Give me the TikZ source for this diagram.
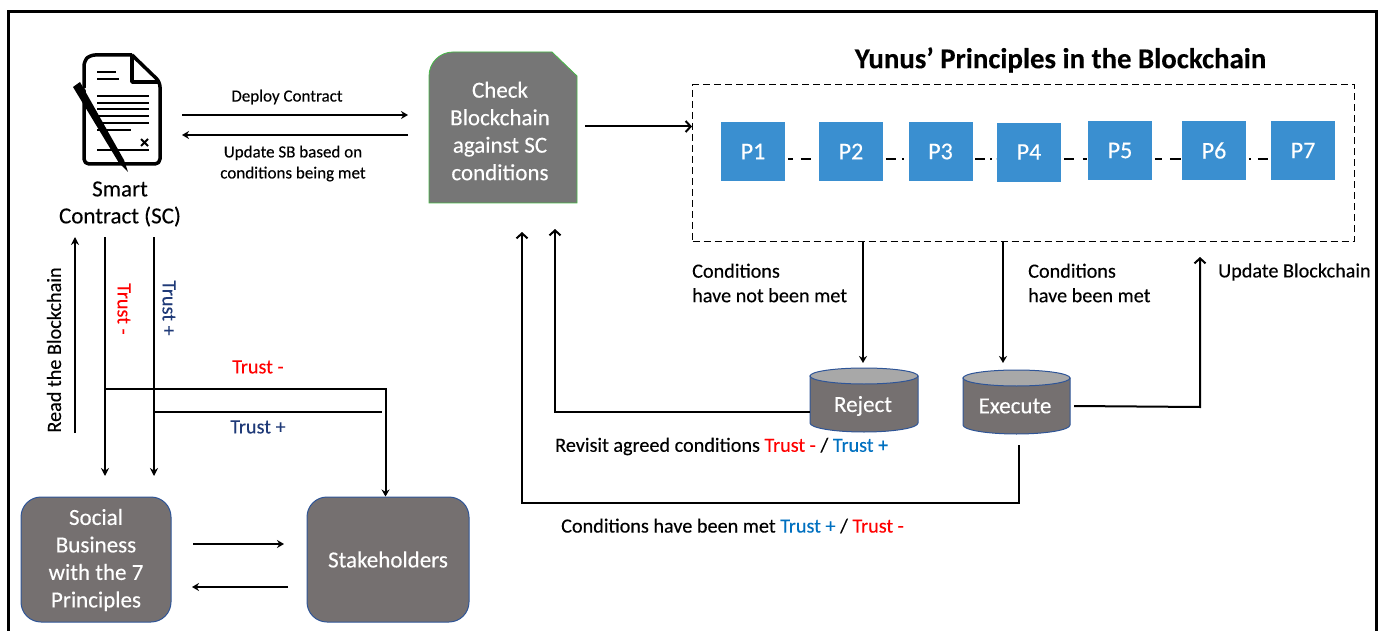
\documentclass[tikz,border=0pt]{standalone}
\usepackage{fontspec}
\setmainfont[FakeBold=0.25]{Carlito}
\usetikzlibrary{arrows.meta,calc}
\definecolor{boxgrey}{HTML}{757070}
\definecolor{chkgrey}{HTML}{767676}
\definecolor{pblue}{HTML}{3A8FD0}
\definecolor{edgeblue}{HTML}{2F5597}
\definecolor{topgrey}{HTML}{A8A8A8}
\definecolor{trustred}{HTML}{FF0000}
\definecolor{trustnavy}{HTML}{1F3A78}
\definecolor{trustblue}{HTML}{0070C0}
\tikzset{
  x=1pt,y=-1pt,
  conn/.style={draw=black,line width=2pt,-{Stealth[length=7pt,width=8pt]}},
  barb/.style={draw=black,line width=2pt,-{Straight Barb[length=5pt,width=11pt]}},
  thin conn/.style={draw=black,line width=1.3pt,-{Stealth[length=8pt,width=8pt]}},
  plain/.style={draw=black,line width=2pt},
  lbl/.style={font=\fontsize{20.2}{24.5}\selectfont,align=left,inner sep=0pt,text=black},
  clbl/.style={lbl,align=center,font=\fontsize{17}{21}\selectfont},
  pbox/.style={fill=pblue,draw=white,line width=.5pt,minimum width=65pt,minimum height=60pt,inner sep=0pt,text=white,font=\fontsize{24}{28}\selectfont},
  gbox/.style={fill=boxgrey,draw=edgeblue,line width=1pt,rounded corners=20pt,inner sep=0pt,text=white,align=center,font=\fontsize{23}{27.5}\selectfont},
  wtxt/.style={text=white,align=center,inner sep=0pt,font=\fontsize{23}{27.5}\selectfont},
}
\begin{document}
\begin{tikzpicture}
\useasboundingbox (0,0) rectangle (1381,631);
% frame
\draw[line width=3pt] (8.5,645) -- (8.5,11.5) -- (1376.5,11.5) -- (1376.5,645);
% document icon
\draw[line width=3.5pt,line join=round,rounded corners=5pt] (132,55) -- (90,55) -- (84,61) -- (84,164) -- (160,164) -- (160,82) -- (132,55);
\draw[line width=3.5pt,line join=round] (132,55) -- (132,82) -- (160,82);
\foreach \xa/\xb/\yy in {97/116/72,97/119/79,97/149/96,97/149/103,97/149/109,97/149/116,97/149/123,97/131/130,97/149/150}
  \draw[line width=2pt] (\xa,\yy) -- (\xb,\yy);
\draw[line width=2pt] (141,139) -- (148,146) (148,139) -- (141,146);
\fill (73,87) -- (80,82) -- (124,160) -- (128,172) -- (119,163) -- cycle;
\draw[white,line width=.8pt] (85,88) -- (96,107);
% smart contract
\node[lbl,align=center,font=\fontsize{23}{27}\selectfont] (sc) at (120,204) {Smart\\Contract (SC)};
\coordinate (scR1) at (182,115);
\coordinate (scR2) at (182,135);
% check box
\fill[chkgrey,draw=green!45!gray,line width=.8pt] (429,203) -- (429,76) to[out=90,in=180] (453,52) -- (552,52) -- (577,76) -- (577,203) -- cycle;
\node[wtxt] (check) at (500,131) {Check\\Blockchain\\against SC\\conditions};
\coordinate (chkL1) at (408,115);
\coordinate (chkL2) at (408,135);
\coordinate (chkR) at (585,126.5);
\coordinate (chkB1) at (522,232);
\coordinate (chkB2) at (555,229);
\draw[conn] (scR1) -- (chkL1);
\draw[conn] (chkL2) -- (scR2);
\node[clbl] (deploy) at (287,97) {Deploy Contract};
\node[clbl] (update) at (293,163.5) {Update SB based on\\conditions being met};
% title and dashed box
\node[inner sep=0pt,font=\bfseries\fontsize{28.8}{32}\selectfont] (title) at (1060.5,60) {Yunus’ Principles in the Blockchain};
\node[draw=black,dash pattern=on 7pt off 4pt,line width=1pt,minimum width=662pt,minimum height=156pt,inner sep=0pt] (dbox) at (1023.5,163) {};
\draw[barb] (chkR) -- (dbox.west |- chkR);
% principle boxes
\node[pbox] (p1) at (753,151.5) {P1};
\node[pbox] (p2) at (851,151.5) {P2};
\node[pbox] (p3) at (940.5,151.5) {P3};
\node[pbox] (p4) at (1029,152) {P4};
\node[pbox] (p5) at (1120,150.5) {P5};
\node[pbox] (p6) at (1214,150.5) {P6};
\node[pbox] (p7) at (1303,150.5) {P7};
\coordinate (linky) at (0,159);
\tikzset{
  link/.style={line width=2pt,dash pattern=#1},
}
\draw[link={on 0pt off 2pt on 5pt off 8pt on 10pt off 30pt}] (p1.east |- linky) -- (p2.west |- linky);
\draw[link={on 0pt off 2pt on 10pt off 6pt on 2pt off 30pt}] (p2.east |- linky) -- (p3.west |- linky);
\draw[link={on 0pt off 2pt on 10pt off 5pt on 2pt off 4pt on 4pt off 30pt}] (p3.east |- linky) -- (p4.west |- linky);
\draw[link={on 0pt off 2pt on 10pt off 9pt on 4pt off 30pt}] (p4.east |- linky) -- (p5.west |- linky);
\draw[link={on 0pt off 2pt on 7pt off 8pt on 11pt off 30pt}] (p5.east |- linky) -- (p6.west |- linky);
\draw[link={on 0pt off 2pt on 2pt off 7pt on 10pt off 30pt}] (p6.east |- linky) -- (p7.west |- linky);
% cylinders
\fill[boxgrey,draw=edgeblue,line width=1pt] (810,376) -- (810,423) arc[start angle=180,end angle=360,x radius=54,y radius=-9] -- (918,376) -- cycle;
\fill[topgrey,draw=edgeblue,line width=1pt] (864,376) ellipse[x radius=54,y radius=8];
\node[wtxt] (reject) at (863,406) {Reject};
\fill[boxgrey,draw=edgeblue,line width=1pt] (963,378) -- (963,425) arc[start angle=180,end angle=360,x radius=53.5,y radius=-9] -- (1070,378) -- cycle;
\fill[topgrey,draw=edgeblue,line width=1pt] (1016.5,378) ellipse[x radius=53.5,y radius=8];
\node[wtxt] (execute) at (1015,406) {Execute};
% from dashed box to cylinders
\coordinate (rejT) at (863,363);
\coordinate (exT) at (1003,363);
\draw[conn] (dbox.south -| rejT) -- (rejT);
\draw[conn] (dbox.south -| exT) -- (exT);
\node[lbl,anchor=west] (notmet) at (692,283) {Conditions\\have not been met};
\node[lbl,anchor=west] (met) at (1028,283) {Conditions\\have been met};
\node[lbl,anchor=west] (updbc) at (1218,272) {Update Blockchain};
% Execute -> dashed box
\coordinate (exR) at (1074,406);
\coordinate (up) at (1200,407);
\coordinate (upT) at (1200,257);
\draw[barb] (exR) -- (up) -- (upT);
% Reject -> check
\coordinate (rejL) at (810,412);
\coordinate (c1) at (555,412);
\draw[barb] (rejL) -- (c1) -- (chkB2);
% Execute -> check
\coordinate (exB) at (1019,445);
\coordinate (c2) at (1019,503);
\coordinate (c3) at (522,503);
\draw[barb] (exB) -- (c2) -- (c3) -- (chkB1);
\node[lbl,anchor=west] (revisit) at (555,446.5) {Revisit agreed conditions \textcolor{trustred}{Trust -} / \textcolor{trustblue}{Trust +}};
\node[lbl,anchor=west] (hasmet) at (561,526) {Conditions have been met \textcolor{trustblue}{Trust +} / \textcolor{trustred}{Trust -}};
% left side
\node[gbox,minimum width=150pt,minimum height=125pt] (social) at (96,559.5) {\rule{0pt}{17pt}Social\\Business\\with the 7\\Principles};
\node[gbox,minimum width=162pt,minimum height=125pt] (stake) at (388,559.5) {Stakeholders};
\coordinate (sa1) at (193,544);
\coordinate (sa2) at (284,544);
\coordinate (sa3) at (288,587);
\coordinate (sa4) at (192,587);
\draw[conn] (sa1) -- (sa2);
\draw[conn] (sa3) -- (sa4);
\coordinate (rd1) at (75,433);
\coordinate (rd2) at (75,237);
\coordinate (tm1) at (105,237);
\coordinate (tm2) at (105,476);
\coordinate (tp1) at (154,237);
\coordinate (tp2) at (154,476);
\draw[thin conn] (rd1) -- (rd2);
\node[lbl,rotate=90] (read) at (54,350) {Read the Blockchain};
\draw[thin conn] (tm1) -- (tm2);
\draw[thin conn] (tp1) -- (tp2);
\node[lbl,rotate=-90,text=trustred] (vtm) at (124,309) {Trust -};
\node[lbl,rotate=-90,text=trustnavy] (vtp) at (169,308) {Trust +};
\coordinate (t1) at (105,389);
\coordinate (t2) at (153,412);
\coordinate (t3) at (382,412);
\coordinate (tc) at (385.5,389);
\draw[conn] (t1) -- (tc) -- (tc |- stake.north);
\draw[plain] (t2) -- (t3);
\node[lbl,text=trustred] (htm) at (258,367) {Trust -};
\node[lbl,text=trustnavy] (htp) at (258,427) {Trust +};
\end{tikzpicture}
\end{document}
